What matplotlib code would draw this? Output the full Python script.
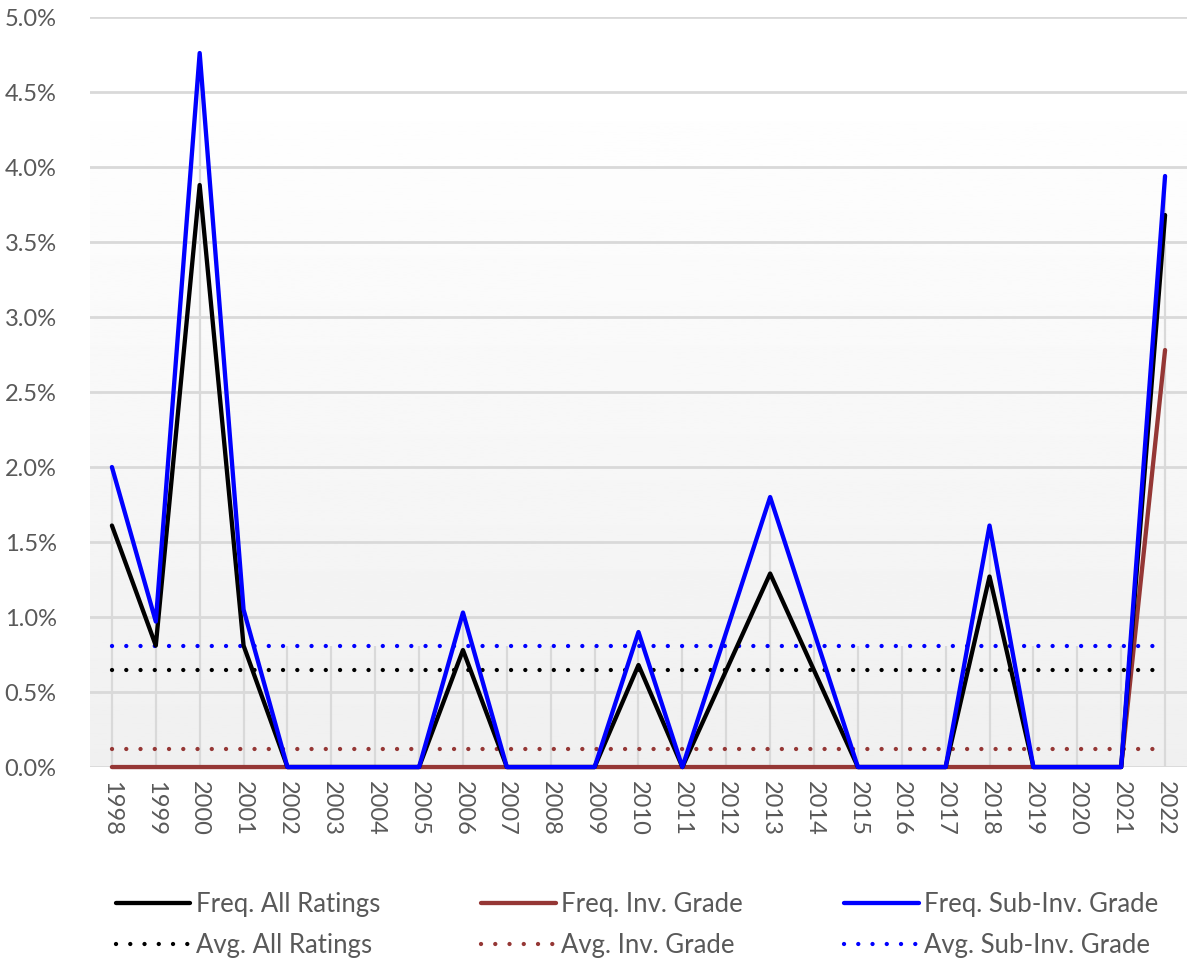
import numpy as np
import matplotlib
matplotlib.use('Agg')
import matplotlib.pyplot as plt
from matplotlib.lines import Line2D
from matplotlib.ticker import FuncFormatter

years = list(range(1998, 2023))
freq_all = [1.61, 0.81, 3.88, 0.81, 0, 0, 0, 0, 0.78, 0, 0, 0, 0.68, 0,
            0.645, 1.29, 0.645, 0, 0, 0, 1.27, 0, 0, 0, 3.68]
freq_inv = [0, 0, 0, 0, 0, 0, 0, 0, 0, 0, 0, 0, 0, 0,
            0, 0, 0, 0, 0, 0, 0, 0, 0, 0, 2.78]
freq_sub = [2.0, 0.97, 4.76, 1.05, 0, 0, 0, 0, 1.03, 0, 0, 0, 0.9, 0,
            0.9, 1.8, 0.9, 0, 0, 0, 1.61, 0, 0, 0, 3.94]
avg_all = 0.645
avg_inv = 0.12
avg_sub = 0.81

c_all = 'black'
c_inv = '#953735'
c_sub = '#0000ff'
txt = '#595959'
grid = '#d9d9d9'

plt.rcParams['font.family'] = ['Lato', 'DejaVu Sans']

fig = plt.figure(figsize=(11.87, 9.68), dpi=100)
ax = fig.add_axes([0.0758, 0.2076, 0.9242, 0.7748])

x = np.arange(len(years))
ax.set_xlim(-0.5, len(years) - 0.5)
ax.set_ylim(0, 5.0)

# background gradient
grad = np.linspace(1.0, 0.94, 256).reshape(-1, 1)
ax.imshow(grad, cmap='gray', vmin=0, vmax=1, extent=[-0.5, len(years) - 0.5, 0, 4.6],
          aspect='auto', zorder=0, origin='upper')

# horizontal grid
for v in np.arange(0, 5.01, 0.5):
    ax.axhline(v, color=grid, lw=2, zorder=1)

# drop lines
tops = [max(a, b, c, avg_all, avg_inv, avg_sub) for a, b, c in zip(freq_all, freq_inv, freq_sub)]
ax.vlines(x, 0, tops, color=grid, lw=1.6, zorder=1)

dot = (0, (0.01, 3.3))
lw = 3.1
ax.plot(x, [avg_inv] * len(x), color=c_inv, lw=lw, ls=dot, dash_capstyle='round', zorder=2)
ax.plot(x, [avg_all] * len(x), color=c_all, lw=lw, ls=dot, dash_capstyle='round', zorder=2)
ax.plot(x, [avg_sub] * len(x), color=c_sub, lw=lw, ls=dot, dash_capstyle='round', zorder=2)
ax.plot(x, freq_inv, color=c_inv, lw=lw, zorder=3, solid_capstyle='round', clip_on=False)
ax.plot(x, freq_all, color=c_all, lw=lw, zorder=4, solid_capstyle='round', clip_on=False)
ax.plot(x, freq_sub, color=c_sub, lw=lw, zorder=5, solid_capstyle='round', clip_on=False)

ax.set_xticks(x)
ax.set_xticklabels([str(y) for y in years], rotation=270, fontsize=17, color=txt)
ax.set_yticks(np.arange(0, 5.01, 0.5))
ax.yaxis.set_major_formatter(FuncFormatter(lambda v, p: '%.1f%%' % v))
ax.tick_params(axis='y', labelsize=17, labelcolor=txt, length=0, pad=24)
ax.tick_params(axis='x', length=0, pad=10)
for s in ax.spines.values():
    s.set_visible(False)

handles = [
    Line2D([], [], color=c_all, lw=lw, solid_capstyle='round'),
    Line2D([], [], color=c_all, lw=lw, ls=dot, dash_capstyle='round'),
    Line2D([], [], color=c_inv, lw=lw, solid_capstyle='round'),
    Line2D([], [], color=c_inv, lw=lw, ls=dot, dash_capstyle='round'),
    Line2D([], [], color=c_sub, lw=lw, solid_capstyle='round'),
    Line2D([], [], color=c_sub, lw=lw, ls=dot, dash_capstyle='round'),
]
labels = ['Freq. All Ratings', 'Avg. All Ratings', 'Freq. Inv. Grade',
          'Avg. Inv. Grade', 'Freq. Sub-Inv. Grade', 'Avg. Sub-Inv. Grade']
leg = fig.legend(handles, labels, ncol=3, loc='upper left', bbox_to_anchor=(0.089, 0.089),
                 frameon=False, fontsize=18.5, handlelength=2.9, handletextpad=0.2,
                 columnspacing=3.95, labelspacing=0.62, borderaxespad=0)
for t in leg.get_texts():
    t.set_color(txt)

fig.savefig('out.png', dpi=100)
